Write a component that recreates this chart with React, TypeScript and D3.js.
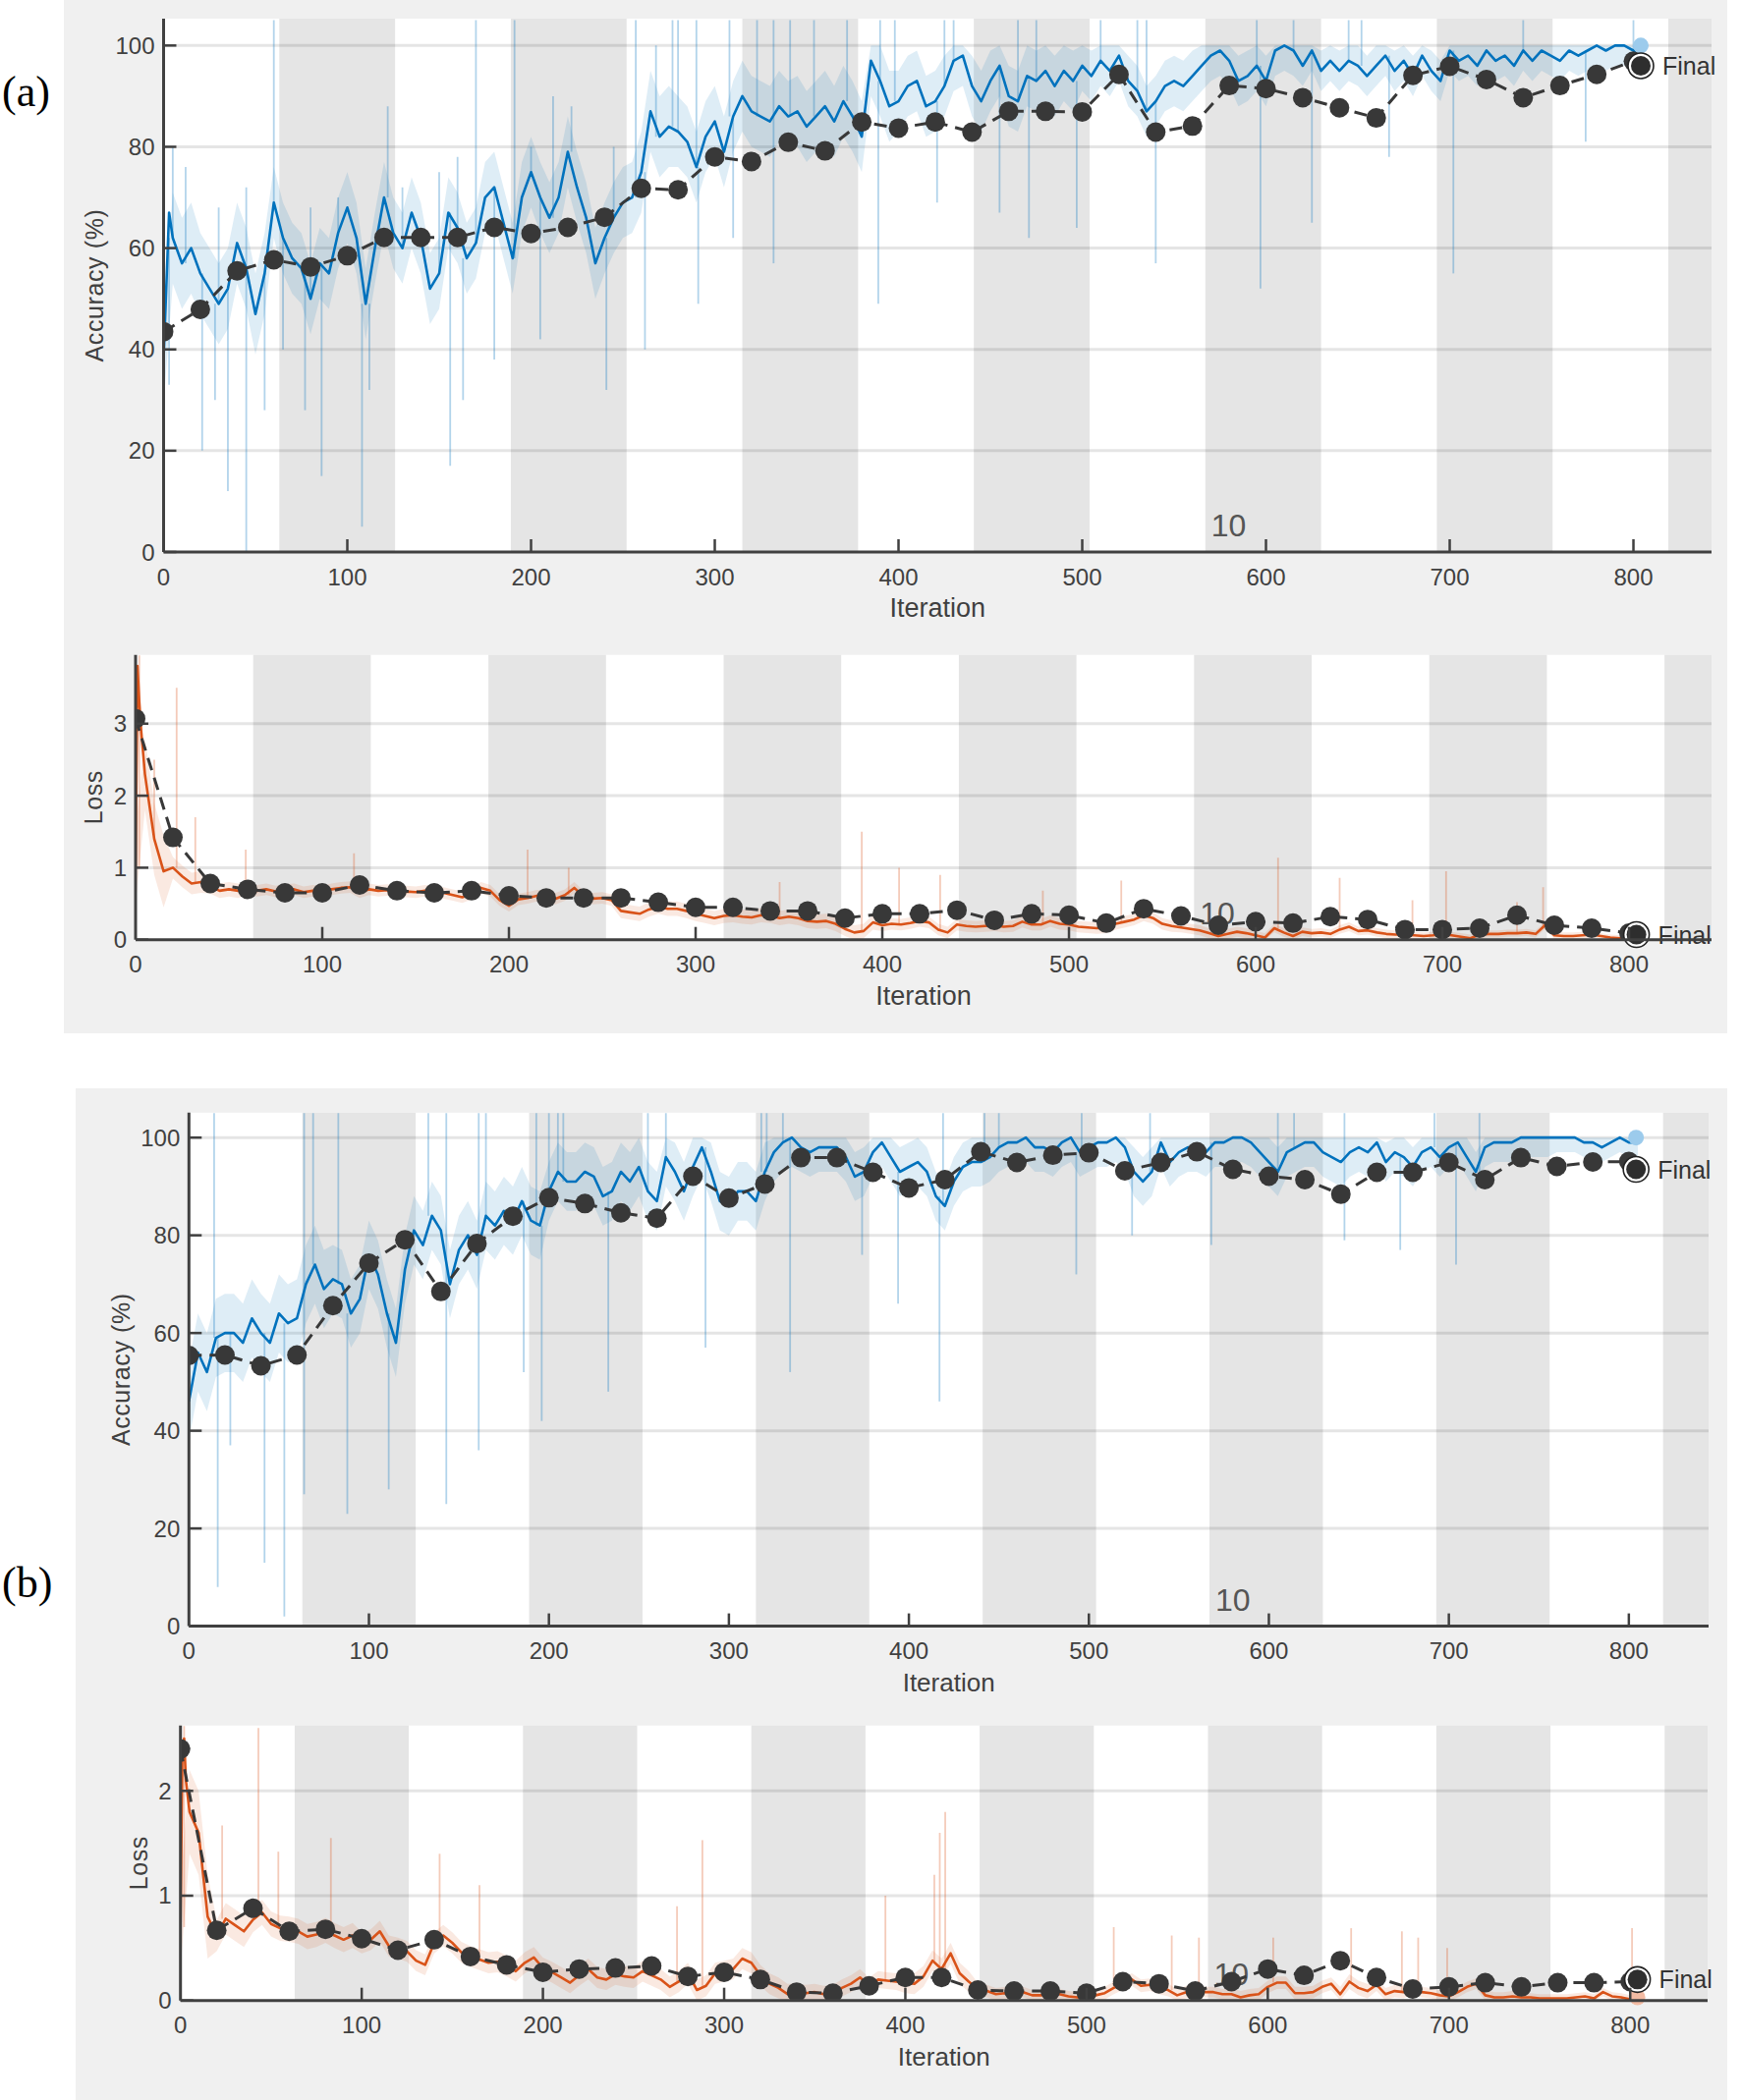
import React from "react";
import * as d3 from "d3";

// ---------- shared categories ----------
const STEP = 5; // smoothed training series sampled every 5 iterations
const VAL_STEP = 20; // validation every 20 iterations
const ITERS_PER_EPOCH = 63;
const EPOCHS = [1, 2, 3, 4, 5, 6, 7, 8, 9, 10, 11, 12, 13, 14];
const LABELED_EPOCHS = [10];
const X_TICKS = [0, 100, 200, 300, 400, 500, 600, 700, 800];
const ACC_TICKS = [0, 20, 40, 60, 80, 100];
const LOSS_A_TICKS = [0, 1, 2, 3];
const LOSS_B_TICKS = [0, 1, 2];
const FINAL_ITER = 804;

// ---------- (a) accuracy ----------
const accA_smooth = [
  38, 62, 57, 60, 55, 52, 49, 52, 61, 56, 47, 55, 69, 62, 58, 56, 50, 57, 55, 63,
  68, 62, 49, 60, 70, 63, 60, 67, 62, 52, 55, 67, 64, 58, 61, 70, 72, 65, 58, 70,
  75, 70, 66, 70, 79, 72, 66, 57, 62, 66, 69, 70, 75, 87, 82, 84, 83, 81, 76, 82,
  85, 79, 86, 90, 87, 86, 85, 88, 86, 87, 84, 86, 88, 85, 89, 86, 82, 97, 93, 88,
  89, 92, 93, 88, 89, 92, 97, 98, 92, 89, 93, 96, 90, 89, 94, 93, 95, 92, 95, 93,
  96, 94, 97, 95, 98, 93, 91, 87, 89, 92, 93, 92, 94, 96, 98, 99, 97, 93, 94, 96,
  93, 99, 100, 99, 96, 99, 95, 97, 95, 97, 96, 94, 96, 98, 95, 97, 94, 98, 95, 93,
  99, 97, 98, 96, 99, 97, 98, 96, 99, 97, 99, 98, 97, 99, 98, 99, 100, 99, 100, 100,
  99, 97,
];
const accA_head: [number, number][] = [[3, 67]];
const accA_spread = [
  9, 8, 8, 7, 7, 7, 7, 7, 7, 7, 7, 7, 7, 8, 7, 7, 7, 7, 7, 7,
  6, 6, 6, 6, 6, 5, 5, 5, 5, 5, 5, 4, 4, 4, 4, 4, 4, 4, 4, 4, 4,
];
const accA_spikes: [number, number][] = [
  [3, 33], [5, 80], [12, 76], [21, 20], [28, 30], [30, 68], [35, 12], [45, 0], [45, 72], [55, 28],
  [60, 105], [65, 40], [77, 28], [80, 68], [86, 15], [95, 70], [108, 5], [112, 32], [122, 88], [130, 72],
  [150, 75], [156, 17], [160, 78], [163, 30], [170, 105], [180, 38], [191, 105], [200, 80], [205, 42], [212, 90],
  [222, 88], [241, 32], [245, 80], [257, 105], [262, 40], [268, 100], [277, 105], [280, 105], [290, 105], [291, 49],
  [308, 105], [310, 62], [323, 105], [332, 105], [332, 57], [341, 105], [354, 105], [372, 105], [389, 49], [390, 105],
  [398, 105], [421, 69], [425, 105], [430, 105], [455, 67], [465, 105], [471, 62], [475, 105], [497, 64], [510, 105],
  [530, 105], [535, 105], [540, 57], [597, 52], [595, 105], [615, 105], [625, 65], [645, 105], [652, 105], [667, 78],
  [702, 55], [740, 105], [774, 81], [800, 105],
];
const accA_val = [
  43.5, 47.9, 55.5, 57.7, 56.3, 58.5, 62.1, 62.1, 62.1, 64.1, 62.9, 64.1, 66.1, 71.8, 71.5, 78.0, 77.1, 80.9, 79.2, 84.9,
  83.7, 84.9, 82.9, 87.0, 87.0, 86.9, 94.3, 82.9, 84.1, 92.1, 91.5, 89.7, 87.7, 85.7, 94.1, 95.9, 93.3, 89.7, 92.1, 94.3,
  96.9,
];
const accA_final = 96;
const accA_finalTrain = 100;

// ---------- (a) loss ----------
const lossA_smooth = [
  1.0, 2.3, 1.4, 0.95, 1.0, 0.88, 0.78, 0.8, 0.74, 0.68, 0.7, 0.68, 0.7, 0.68, 0.7, 0.67, 0.69, 0.7, 0.66, 0.68,
  0.67, 0.7, 0.72, 0.73, 0.66, 0.7, 0.68, 0.69, 0.66, 0.67, 0.66, 0.68, 0.66, 0.65, 0.62, 0.59, 0.64, 0.72, 0.68, 0.55,
  0.47, 0.56, 0.58, 0.61, 0.6, 0.57, 0.62, 0.72, 0.6, 0.57, 0.58, 0.55, 0.4, 0.38, 0.36, 0.42, 0.46, 0.43, 0.43, 0.4,
  0.36, 0.33, 0.3, 0.33, 0.34, 0.32, 0.31, 0.34, 0.33, 0.3, 0.32, 0.3, 0.26, 0.25, 0.26, 0.22, 0.15, 0.1, 0.12, 0.24,
  0.2, 0.22, 0.21, 0.23, 0.26, 0.24, 0.14, 0.1, 0.21, 0.19, 0.18, 0.19, 0.2, 0.18, 0.19, 0.25, 0.21, 0.21, 0.26, 0.22,
  0.21, 0.18, 0.17, 0.16, 0.17, 0.22, 0.25, 0.28, 0.34, 0.3, 0.22, 0.19, 0.17, 0.15, 0.13, 0.09, 0.05, 0.08, 0.11, 0.09,
  0.06, 0.03, 0.16, 0.1, 0.05, 0.11, 0.09, 0.1, 0.08, 0.14, 0.18, 0.12, 0.13, 0.1, 0.08, 0.07, 0.07, 0.06, 0.05, 0.06,
  0.08, 0.06, 0.04, 0.02, 0.07, 0.08, 0.08, 0.09, 0.09, 0.1, 0.08, 0.2, 0.06, 0.05, 0.05, 0.06, 0.07, 0.05, 0.03, 0.02,
  0.01, 0.02,
];
const lossA_head: [number, number][] = [[1, 3.8], [2, 3.3], [3, 2.9]];
const lossA_spread = [
  0.5, 0.15, 0.1, 0.08, 0.08, 0.08, 0.08, 0.08, 0.08, 0.08, 0.08, 0.08, 0.08, 0.1, 0.1, 0.1, 0.1, 0.1, 0.1, 0.1,
  0.08, 0.08, 0.08, 0.08, 0.08, 0.08, 0.08, 0.08, 0.07, 0.07, 0.06, 0.06, 0.06, 0.06, 0.05, 0.05, 0.05, 0.05, 0.05, 0.04,
  0.04,
];
const lossA_spikes: [number, number][] = [
  [2, 3.95], [10, 2.5], [22, 3.5], [32, 1.7], [59, 1.25], [117, 1.2], [210, 1.25], [232, 1.0], [345, 0.8], [389, 1.5],
  [409, 1.0], [431, 0.9], [486, 0.68], [528, 0.82], [612, 1.14], [645, 0.86], [684, 0.55], [702, 0.95], [740, 0.52], [754, 0.73],
];
const lossA_val = [
  3.07, 1.42, 0.78, 0.7, 0.65, 0.65, 0.76, 0.68, 0.65, 0.68, 0.61, 0.58, 0.58, 0.58, 0.52, 0.45, 0.45, 0.4, 0.4, 0.3,
  0.36, 0.36, 0.41, 0.27, 0.36, 0.34, 0.23, 0.43, 0.33, 0.2, 0.25, 0.23, 0.32, 0.28, 0.14, 0.14, 0.16, 0.34, 0.2, 0.16,
  0.09,
];
const lossA_final = 0.07;
const lossA_finalTrain = 0.02;

// ---------- (b) accuracy ----------
const accB_smooth = [
  46, 56, 52, 59, 60, 60, 58, 63, 60, 58, 64, 62, 63, 70, 74, 69, 71, 70, 64, 67,
  76, 72, 64, 58, 73, 81, 78, 84, 81, 70, 77, 80, 76, 84, 82, 85, 83, 87, 83, 82,
  89, 93, 91, 91, 93, 92, 88, 89, 93, 91, 94, 89, 87, 96, 93, 89, 94, 98, 93, 87,
  86, 89, 89, 87, 93, 97, 99, 100, 98, 97, 98, 98, 98, 96, 92, 93, 97, 99, 96, 93,
  94, 95, 93, 88, 86, 91, 94, 95, 95, 96, 98, 99, 99, 100, 98, 98, 97, 99, 100, 97,
  98, 99, 99, 100, 98, 93, 91, 93, 99, 95, 97, 98, 98, 97, 99, 99, 100, 100, 99, 97,
  95, 93, 97, 98, 99, 99, 97, 96, 95, 97, 98, 97, 99, 95, 97, 96, 94, 97, 98, 96,
  98, 99, 96, 93, 98, 99, 99, 99, 100, 100, 100, 100, 100, 100, 100, 99, 99, 98, 99, 100,
  99, 99,
];
const accB_head: [number, number][] = [];
const accB_spread = [
  8, 8, 8, 8, 7, 7, 7, 7, 7, 7, 6, 6, 6, 6, 6, 6, 6, 5, 5, 5,
  5, 5, 5, 5, 5, 5, 5, 5, 5, 5, 5, 5, 5, 4, 4, 4, 4, 4, 3, 3, 3,
];
const accB_spikes: [number, number][] = [
  [14, 105], [16, 8], [23, 37], [42, 13], [53, 2], [64, 105], [64, 27], [69, 105], [83, 105], [88, 23],
  [111, 28], [133, 105], [143, 105], [143, 25], [161, 105], [161, 36], [165, 105], [186, 52], [193, 105], [196, 42],
  [200, 105], [205, 105], [208, 105], [233, 48], [255, 105], [265, 105], [287, 57], [318, 105], [321, 105], [330, 105],
  [334, 52], [374, 76], [394, 66], [417, 46], [419, 105], [442, 105], [450, 105], [493, 72], [496, 105], [524, 80],
  [534, 105], [568, 78], [605, 105], [614, 105], [642, 79], [642, 105], [673, 77], [692, 105], [704, 74], [717, 105],
];
const accB_val = [
  55.4, 55.5, 53.3, 55.5, 65.6, 74.3, 79.1, 68.5, 78.3, 83.9, 87.7, 86.5, 84.6, 83.5, 92.1, 87.6, 90.5, 95.9, 95.9, 92.9,
  89.7, 91.4, 97.1, 94.9, 96.4, 96.9, 93.2, 94.9, 97.1, 93.5, 92.1, 91.4, 88.4, 92.9, 92.9, 94.9, 91.4, 95.9, 94.1, 95.0,
  95.1,
];
const accB_final = 93.5;
const accB_finalTrain = 100;

// ---------- (b) loss ----------
const lossB_smooth = [
  0.7, 1.8, 1.6, 0.8, 0.62, 0.78, 0.72, 0.66, 0.77, 0.84, 0.73, 0.69, 0.68, 0.66, 0.61, 0.63, 0.67, 0.62, 0.58, 0.62,
  0.55, 0.58, 0.66, 0.52, 0.5, 0.47, 0.38, 0.34, 0.55, 0.62, 0.55, 0.46, 0.42, 0.39, 0.36, 0.37, 0.33, 0.28, 0.36, 0.41,
  0.31, 0.27, 0.22, 0.17, 0.24, 0.3, 0.22, 0.2, 0.25, 0.23, 0.22, 0.28, 0.24, 0.2, 0.13, 0.18, 0.26, 0.1, 0.14, 0.26,
  0.28, 0.3, 0.4, 0.36, 0.24, 0.16, 0.12, 0.06, 0.08, 0.07, 0.08, 0.06, 0.07, 0.12, 0.16, 0.22, 0.14, 0.2, 0.19, 0.18,
  0.17, 0.16, 0.23, 0.38, 0.3, 0.45, 0.26, 0.18, 0.11, 0.09, 0.06, 0.07, 0.06, 0.08, 0.05, 0.05, 0.06, 0.06, 0.04, 0.03,
  0.02, 0.05, 0.07, 0.12, 0.16, 0.2, 0.14, 0.15, 0.12, 0.1, 0.05, 0.08, 0.11, 0.08, 0.08, 0.06, 0.06, 0.03, 0.05, 0.06,
  0.13, 0.17, 0.17, 0.07, 0.07, 0.08, 0.13, 0.16, 0.06, 0.18, 0.12, 0.09, 0.15, 0.06, 0.09, 0.08, 0.11, 0.08, 0.07, 0.05,
  0.04, 0.08, 0.13, 0.16, 0.05, 0.03, 0.03, 0.04, 0.03, 0.03, 0.02, 0.02, 0.02, 0.02, 0.03, 0.04, 0.02, 0.08, 0.04, 0.03,
  0.01, 0.11,
];
const lossB_head: [number, number][] = [[1, 2.3], [2, 2.5], [3, 2.1]];
const lossB_spread = [
  0.4, 0.15, 0.12, 0.12, 0.12, 0.1, 0.1, 0.1, 0.1, 0.1, 0.1, 0.1, 0.1, 0.1, 0.1, 0.1, 0.1, 0.08, 0.08, 0.08,
  0.1, 0.1, 0.06, 0.05, 0.05, 0.06, 0.06, 0.06, 0.05, 0.06, 0.06, 0.06, 0.07, 0.06, 0.05, 0.05, 0.05, 0.04, 0.04, 0.04,
  0.04,
];
const lossB_spikes: [number, number][] = [
  [2, 2.62], [23, 1.67], [43, 2.6], [54, 1.42], [83, 1.55], [143, 1.4], [165, 1.1], [274, 0.9], [288, 1.53], [389, 1.0],
  [416, 1.2], [419, 1.6], [422, 1.8], [515, 0.7], [547, 0.62], [562, 0.6], [603, 0.6], [646, 0.69], [674, 0.66], [683, 0.6],
  [699, 0.5], [801, 0.69],
];
const lossB_val = [
  2.4, 0.67, 0.88, 0.66, 0.68, 0.59, 0.48, 0.58, 0.42, 0.34, 0.27, 0.3, 0.31, 0.33, 0.23, 0.27, 0.2, 0.08, 0.07, 0.14,
  0.22, 0.22, 0.1, 0.09, 0.09, 0.07, 0.18, 0.16, 0.09, 0.18, 0.3, 0.24, 0.38, 0.22, 0.11, 0.13, 0.17, 0.13, 0.17, 0.17,
  0.18,
];
const lossB_final = 0.2;
const lossB_finalTrain = 0.03;

// ---------- styles ----------
const FONT = "'Liberation Sans', Arial, Helvetica, sans-serif";
const AXIS_COLOR = "#404040";
const BLUE = "#0072BD";
const ORANGE = "#D95319";
const VAL_COLOR = "#383838";

type PlotProps = {
  id: string;
  x0: number; x1: number; yTop: number; yBase: number;
  xMax: number; yMax: number; bandTop: number;
  yTicks: number[];
  smooth: number[]; head: [number, number][]; spread: number[]; spikes: [number, number][];
  val: number[]; finalVal: number; finalTrain: number;
  color: string; lightColor: string;
  yLabel: string; yLabelOffset: number; iterFont: number;
};

function TrainPlot(p: PlotProps) {
  const x = d3.scaleLinear().domain([0, p.xMax]).range([p.x0, p.x1]);
  const y = d3.scaleLinear().domain([0, p.yMax]).range([p.yBase, p.yTop]);
  const smoothPts: [number, number][] = p.smooth.map((v, i) => [i * STEP, v]);
  const linePts = [...smoothPts, ...p.head].sort((a, b) => a[0] - b[0]);
  const band = smoothPts.map(([it, v]) => {
    const s = p.spread[Math.min(p.spread.length - 1, Math.floor(it / VAL_STEP))];
    return [it, Math.max(0, v - s), Math.min(p.bandTop, v + s)];
  });
  const area = d3
    .area<number[]>()
    .x((d) => x(d[0]))
    .y0((d) => y(d[1]))
    .y1((d) => y(d[2]));
  const line = d3
    .line<[number, number]>()
    .x((d) => x(d[0]))
    .y((d) => y(d[1]));
  const valPts: [number, number][] = p.val.map((v, i) => [i * VAL_STEP, v]);
  const near = (it: number) => p.smooth[Math.min(p.smooth.length - 1, Math.round(it / STEP))];
  const epochRects = EPOCHS.map((e) => ({
    e,
    s: (e - 1) * ITERS_PER_EPOCH,
    t: Math.min(e * ITERS_PER_EPOCH, p.xMax),
  }));
  const midY = (p.yTop + p.yBase) / 2;
  return (
    <g>
      <defs>
        <clipPath id={p.id}>
          <rect x={p.x0} y={p.yTop - 2} width={p.x1 - p.x0} height={p.yBase - p.yTop + 2} />
        </clipPath>
      </defs>
      <rect x={p.x0} y={p.yTop} width={p.x1 - p.x0} height={p.yBase - p.yTop} fill="#ffffff" />
      {epochRects
        .filter((r) => r.e % 2 === 0)
        .map((r) => (
          <rect key={r.e} x={x(r.s)} y={p.yTop} width={x(r.t) - x(r.s)} height={p.yBase - p.yTop} fill="#e5e5e5" />
        ))}
      {p.yTicks
        .filter((t) => t > 0)
        .map((t) => (
          <line key={t} x1={p.x0} x2={p.x1} y1={y(t)} y2={y(t)} stroke="#000" strokeOpacity={0.1} strokeWidth={3} />
        ))}
      {LABELED_EPOCHS.map((e) => (
        <text
          key={e}
          x={x((e - 1) * ITERS_PER_EPOCH) + 6}
          y={p.yBase - 16}
          fontFamily={FONT}
          fontSize={32}
          fill="#555"
        >
          {e}
        </text>
      ))}
      <g clipPath={`url(#${p.id})`}>
        <path d={area(band) || ""} fill={p.color} fillOpacity={0.13} />
        {p.spikes.map(([it, v], i) => (
          <line
            key={i}
            x1={x(it)}
            x2={x(it)}
            y1={y(near(it))}
            y2={y(v)}
            stroke={p.color}
            strokeOpacity={0.3}
            strokeWidth={1.8}
          />
        ))}
        <path d={line(linePts) || ""} fill="none" stroke={p.color} strokeWidth={2.6} strokeLinejoin="round" />
        <path d={line(valPts) || ""} fill="none" stroke={VAL_COLOR} strokeWidth={3} strokeDasharray="13 8" />
        {valPts.map(([it, v]) => (
          <circle key={it} cx={x(it)} cy={y(v)} r={10} fill={VAL_COLOR} />
        ))}
      </g>
      <circle cx={x(FINAL_ITER)} cy={y(p.finalTrain)} r={8} fill={p.lightColor} />
      <circle cx={x(FINAL_ITER)} cy={y(p.finalVal)} r={13} fill="#fff" stroke="#222" strokeWidth={1.6} />
      <circle cx={x(FINAL_ITER)} cy={y(p.finalVal)} r={10} fill="#2e2e2e" />
      <text
        x={x(FINAL_ITER) + 22}
        y={y(p.finalVal)}
        dominantBaseline="central"
        fontFamily={FONT}
        fontSize={25}
        fill="#333"
      >
        Final
      </text>
      {/* axes */}
      <line x1={p.x0} x2={p.x0} y1={p.yBase} y2={p.yTop} stroke={AXIS_COLOR} strokeWidth={3} />
      <line x1={p.x0} x2={p.x1} y1={p.yBase} y2={p.yBase} stroke={AXIS_COLOR} strokeWidth={3} />
      {p.yTicks.map((t) => (
        <g key={t}>
          <line x1={p.x0} x2={p.x0 + 13} y1={y(t)} y2={y(t)} stroke={AXIS_COLOR} strokeWidth={2.5} />
          <text
            x={p.x0 - 9}
            y={y(t)}
            textAnchor="end"
            dominantBaseline="central"
            fontFamily={FONT}
            fontSize={24}
            fill={AXIS_COLOR}
          >
            {t}
          </text>
        </g>
      ))}
      {X_TICKS.map((t) => (
        <g key={t}>
          {t > 0 && <line x1={x(t)} x2={x(t)} y1={p.yBase} y2={p.yBase - 13} stroke={AXIS_COLOR} strokeWidth={2.5} />}
          <text
            x={x(t)}
            y={p.yBase + 25}
            textAnchor="middle"
            dominantBaseline="central"
            fontFamily={FONT}
            fontSize={24}
            fill={AXIS_COLOR}
          >
            {t}
          </text>
        </g>
      ))}
      <text
        transform={`translate(${p.x0 - p.yLabelOffset},${midY}) rotate(-90)`}
        textAnchor="middle"
        dominantBaseline="central"
        fontFamily={FONT}
        fontSize={25}
        letterSpacing={0.6}
        fill={AXIS_COLOR}
      >
        {p.yLabel}
      </text>
      <text
        x={(p.x0 + p.x1) / 2}
        y={p.yBase + 57}
        textAnchor="middle"
        dominantBaseline="central"
        fontFamily={FONT}
        fontSize={p.iterFont}
        fill={AXIS_COLOR}
      >
        Iteration
      </text>
    </g>
  );
}

export default function App() {
  return (
    <svg
      width={1772}
      height={2138}
      viewBox="0 0 1772 2138"
      style={{ position: "absolute", left: 0, top: 0, background: "#fff" }}
    >
      <rect x={0} y={0} width={1772} height={2138} fill="#fff" />
      <rect x={65} y={0} width={1693} height={1052} fill="#f0f0f0" />
      <rect x={77} y={1108} width={1681} height={1030} fill="#f0f0f0" />
      <text x={2} y={108} fontFamily="'Liberation Serif', 'Times New Roman', serif" fontSize={44} fill="#000">
        (a)
      </text>
      <text x={2} y={1626} fontFamily="'Liberation Serif', 'Times New Roman', serif" fontSize={44} fill="#000">
        (b)
      </text>
      <TrainPlot
        id="clipAA"
        x0={166.5} x1={1742} yTop={19} yBase={562} xMax={842.5} yMax={105.3} bandTop={100}
        yTicks={ACC_TICKS}
        smooth={accA_smooth} head={accA_head} spread={accA_spread} spikes={accA_spikes}
        val={accA_val} finalVal={accA_final} finalTrain={accA_finalTrain}
        color={BLUE} lightColor="#9ccbec"
        yLabel="Accuracy (%)" yLabelOffset={71} iterFont={27}
      />
      <TrainPlot
        id="clipAL"
        x0={138} x1={1742} yTop={666.7} yBase={956.7} xMax={844.2} yMax={3.956} bandTop={10}
        yTicks={LOSS_A_TICKS}
        smooth={lossA_smooth} head={lossA_head} spread={lossA_spread} spikes={lossA_spikes}
        val={lossA_val} finalVal={lossA_final} finalTrain={lossA_finalTrain}
        color={ORANGE} lightColor="#f3bba3"
        yLabel="Loss" yLabelOffset={43} iterFont={27}
      />
      <TrainPlot
        id="clipBA"
        x0={192.3} x1={1739} yTop={1132.8} yBase={1655.6} xMax={844.3} yMax={105.1} bandTop={100}
        yTicks={ACC_TICKS}
        smooth={accB_smooth} head={accB_head} spread={accB_spread} spikes={accB_spikes}
        val={accB_val} finalVal={accB_final} finalTrain={accB_finalTrain}
        color={BLUE} lightColor="#9ccbec"
        yLabel="Accuracy (%)" yLabelOffset={69} iterFont={26}
      />
      <TrainPlot
        id="clipBL"
        x0={183.7} x1={1738} yTop={1756.7} yBase={2036.7} xMax={842.7} yMax={2.624} bandTop={10}
        yTicks={LOSS_B_TICKS}
        smooth={lossB_smooth} head={lossB_head} spread={lossB_spread} spikes={lossB_spikes}
        val={lossB_val} finalVal={lossB_final} finalTrain={lossB_finalTrain}
        color={ORANGE} lightColor="#f3bba3"
        yLabel="Loss" yLabelOffset={43} iterFont={26}
      />
    </svg>
  );
}
